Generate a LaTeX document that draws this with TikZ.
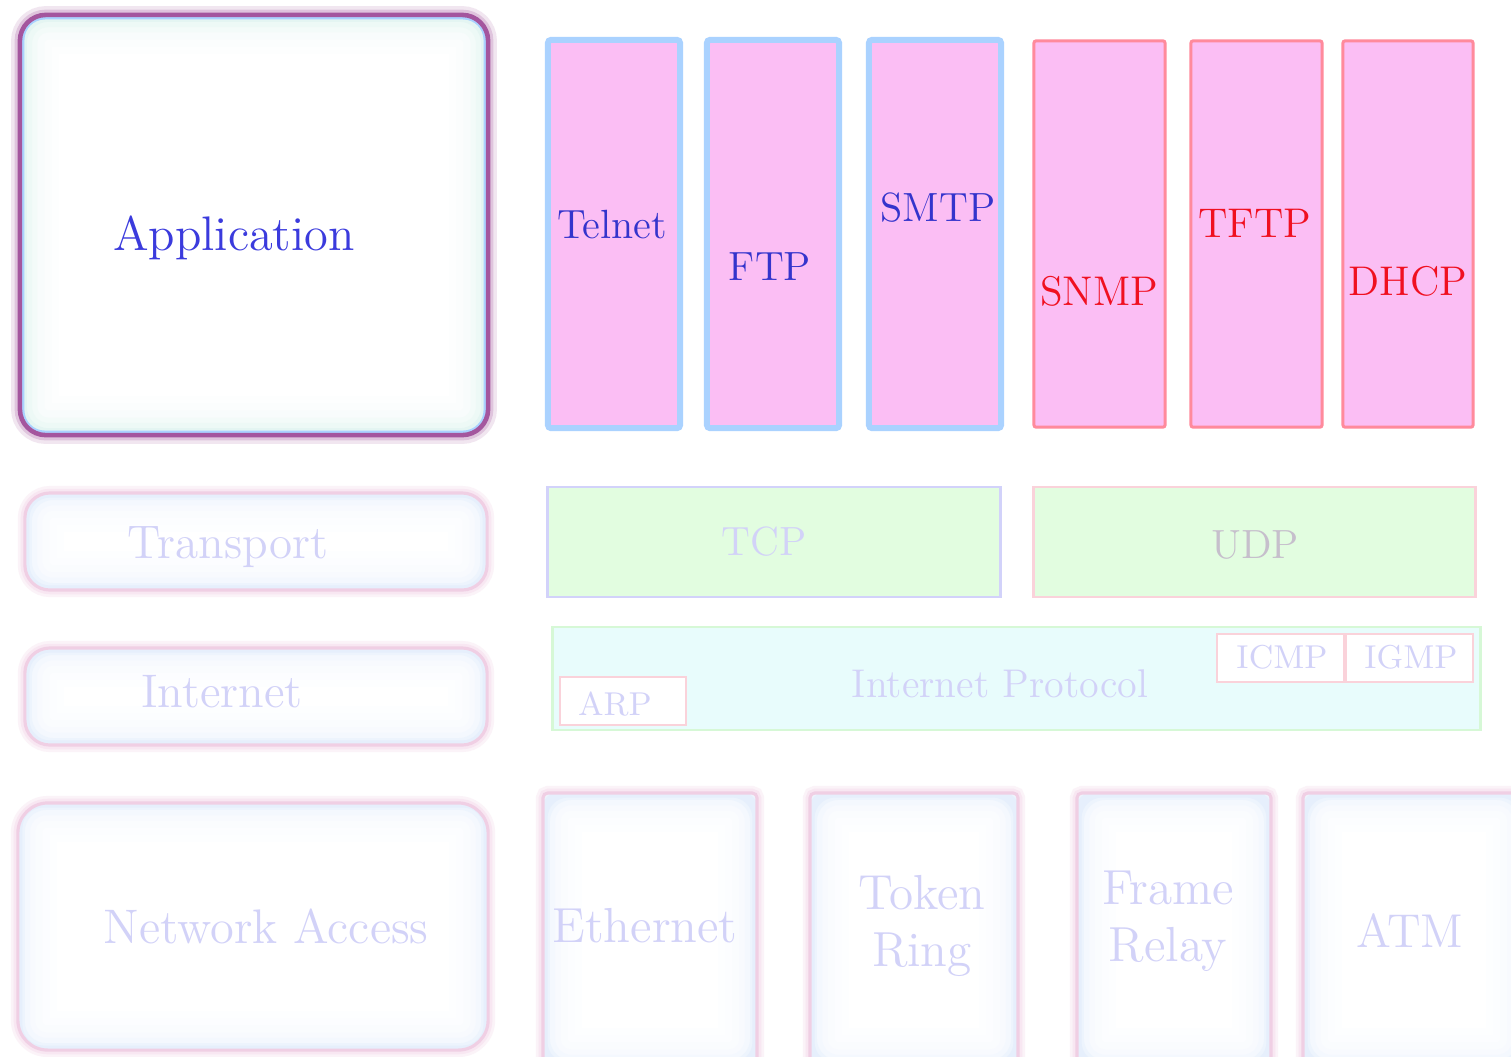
\documentclass[tikz,border=0pt]{standalone}
\usepackage{fontspec}
\definecolor{appblue}{HTML}{3B3BDD}
\definecolor{protblue}{HTML}{3434CC}
\definecolor{protred}{HTML}{F01020}
\definecolor{pinkfill}{HTML}{FBBEF4}
\definecolor{skyedge}{HTML}{AAD2FF}
\definecolor{rededge}{HTML}{FF8A9C}
\definecolor{plum}{HTML}{A4569E}
\definecolor{appglow}{HTML}{D8F1EC}
\definecolor{paletext}{HTML}{D2D2F8}
\definecolor{paleedge}{HTML}{F0CFE4}
\definecolor{paleglow}{HTML}{E6EFFC}
\definecolor{mint}{HTML}{E2FDE0}
\definecolor{lavedge}{HTML}{D2D2FA}
\definecolor{rosedge}{HTML}{FAD2DA}
\definecolor{udptext}{HTML}{C6BFCC}
\definecolor{ipfill}{HTML}{E8FCFC}
\definecolor{ipedge}{HTML}{D6F8D6}
\tikzset{
  % soft inner glow along the edge of a box, drawn in layers
  glowin/.style 2 args={path picture={
      \foreach \w/\s in {22/6,18/11,14/18,10/30,7/45,4/70}{
        \draw[#1!\s, line width=\w pt, rounded corners=0.28cm]
          (path picture bounding box.south west) rectangle (path picture bounding box.north east);}
      \draw[#2, line width=2.6pt, rounded corners=0.25cm]
        (path picture bounding box.south west) rectangle (path picture bounding box.north east);}},
  appbox/.style={draw=plum, line width=1.3pt, fill=white, rounded corners=0.26cm,
      preaction={draw=plum!15, line width=5pt},
      preaction={draw=plum!35, line width=3pt},
      glowin={appglow}{skyedge}},
  layerbox/.style={draw=paleedge, line width=0.9pt, fill=white, rounded corners=0.25cm,
      preaction={draw=paleedge!25, line width=4pt},
      preaction={draw=paleedge!50, line width=2.4pt}, glowin={paleglow}{paleglow}},
  linkbox/.style={layerbox, rounded corners=0.05cm},
  appproto/.style={draw=skyedge, line width=1.7pt, fill=pinkfill, rounded corners=0.03cm},
  mgmtproto/.style={draw=rededge, line width=0.85pt, fill=pinkfill, rounded corners=0.02cm},
  transbox/.style={fill=mint, line width=0.8pt},
  tagbox/.style={draw=rosedge, line width=0.8pt, fill=white},
  lbl/.style={inner sep=0pt, anchor=base},
  bluetxt/.style={lbl, text=protblue, font=\fontsize{11.6}{13}\selectfont},
  redtxt/.style={lbl, text=protred, font=\fontsize{11.8}{13}\selectfont},
  paletxt/.style={lbl, text=paletext, font=\fontsize{13.4}{15}\selectfont},
  smalltxt/.style={lbl, text=paletext, font=\fontsize{9.4}{11}\selectfont},
  linktxt/.style={inner sep=0pt, text=paletext, align=center,
      font=\fontsize{14}{16.2}\selectfont},
}
\begin{document}
\begin{tikzpicture}[x=0.01cm, y=-0.01cm]
\path[use as bounding box, fill=white] (0,0) rectangle (1511,1056);
\clip (0,0) rectangle (1511,1056);

% layer column
\node[appbox, minimum width=4.68cm, minimum height=4.20cm] (app) at (254,225) {};
\node[lbl, text=appblue, font=\fontsize{13.8}{15}\selectfont] (appt) at (234,250) {Application};

\node[layerbox, minimum width=4.62cm, minimum height=0.97cm] (transport) at (256,541.5) {};
\node[paletxt] (transportt) at (228,558) {Transport};

\node[layerbox, minimum width=4.62cm, minimum height=0.97cm] (internet) at (256,696.5) {};
\node[paletxt] (internett) at (222,707) {Internet};

\node[layerbox, minimum width=4.70cm, minimum height=2.47cm, rounded corners=0.3cm] (netaccess) at (253,926.5) {};
\node[lbl, text=paletext, font=\fontsize{13.8}{15}\selectfont] (netaccesst) at (266,943) {Network Access};

% application protocols
\node[appproto, minimum width=1.32cm, minimum height=3.88cm] (telnet) at (614,234) {};
\node[bluetxt] (telnett) at (612,238) {Telnet};
\node[appproto, minimum width=1.32cm, minimum height=3.88cm] (ftp) at (773,234) {};
\node[bluetxt] (ftpt) at (770,280) {FTP};
\node[appproto, minimum width=1.32cm, minimum height=3.88cm] (smtp) at (935,234) {};
\node[bluetxt] (smtpt) at (938,221) {SMTP};
\node[mgmtproto, minimum width=1.31cm, minimum height=3.86cm] (snmp) at (1099.5,234) {};
\node[redtxt] (snmpt) at (1099,305) {SNMP};
\node[mgmtproto, minimum width=1.31cm, minimum height=3.86cm] (tftp) at (1256.5,234) {};
\node[redtxt] (tftpt) at (1255,237) {TFTP};
\node[mgmtproto, minimum width=1.30cm, minimum height=3.86cm] (dhcp) at (1408,234) {};
\node[redtxt] (dhcpt) at (1408,295) {DHCP};

% transport protocols
\node[transbox, draw=lavedge, minimum width=4.52cm, minimum height=1.10cm] (tcp) at (774,542) {};
\node[lbl, text=paletext, font=\fontsize{11.6}{13}\selectfont] (tcpt) at (764,555) {TCP};
\node[transbox, draw=rosedge, minimum width=4.41cm, minimum height=1.10cm] (udp) at (1254.5,542) {};
\node[lbl, text=udptext, font=\fontsize{11.6}{13}\selectfont] (udpt) at (1255,558) {UDP};

% internet layer
\node[draw=ipedge, line width=0.8pt, fill=ipfill, minimum width=9.27cm, minimum height=1.03cm] (ip) at (1016.5,678.5) {};
\node[lbl, text=paletext, font=\fontsize{11.4}{13}\selectfont] (ipt) at (1000,697) {Internet Protocol};
\node[tagbox, minimum width=1.26cm, minimum height=0.48cm] (arp) at (623,701) {};
\node[smalltxt] (arpt) at (615,715) {ARP};
\node[tagbox, minimum width=1.27cm, minimum height=0.48cm] (icmp) at (1280.5,658) {};
\node[smalltxt] (icmpt) at (1282,668) {ICMP};
\node[tagbox, minimum width=1.27cm, minimum height=0.48cm] (igmp) at (1409.5,658) {};
\node[smalltxt] (igmpt) at (1411,668) {IGMP};

% network access technologies
\node[linkbox, minimum width=2.14cm, minimum height=2.74cm] (ethernet) at (650,930) {};
\node[lbl, text=paletext, font=\fontsize{14}{16}\selectfont] (etht) at (645,942) {Ethernet};
\node[linkbox, minimum width=2.08cm, minimum height=2.74cm] (tokenring) at (914,930) {};
\node[linktxt] (tokent) at (922,926) {Token\\Ring};
\node[linkbox, minimum width=1.94cm, minimum height=2.74cm] (framerelay) at (1174,930) {};
\node[linktxt] (framet) at (1168,921) {Frame\\Relay};
\node[linkbox, minimum width=2.22cm, minimum height=2.74cm] (atm) at (1414,930) {};
\node[lbl, text=paletext, font=\fontsize{13.5}{16}\selectfont] (atmt) at (1410,947) {ATM};
\end{tikzpicture}
\end{document}
